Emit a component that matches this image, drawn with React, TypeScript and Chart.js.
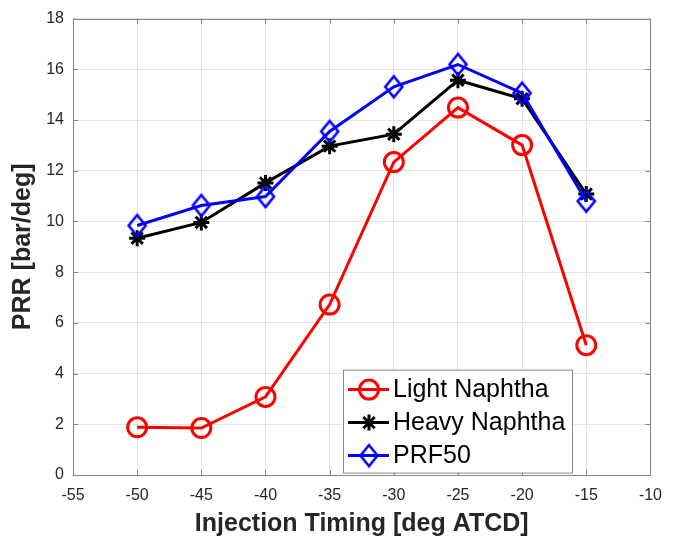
import React, { useEffect, useRef } from "react";
import { Chart, registerables } from "chart.js";
import { drawPoint } from "chart.js/helpers";

Chart.register(...registerables);

const injectionTiming = [-50, -45, -40, -35, -30, -25, -20, -15];
const lightNaphtha = [1.88, 1.85, 3.08, 6.72, 12.34, 14.49, 13.01, 5.12];
const heavyNaphtha = [9.34, 9.96, 11.52, 12.97, 13.44, 15.57, 14.84, 11.08];
const prf50 = [9.84, 10.63, 10.98, 13.55, 15.31, 16.19, 15.06, 10.8];
const seriesNames = ["Light Naphtha", "Heavy Naphtha", "PRF50"];
const seriesColors = ["#ff0000", "#000000", "#0000ff"];
const xTitle = "Injection Timing [deg ATCD]";
const yTitle = "PRR [bar/deg]";

const FONT = "'Liberation Sans', Arial, Helvetica, sans-serif";
const AXIS_COLOR = "#858585";
const GRID_COLOR = "#e2e2e2";
const TEXT_COLOR = "#262626";

function makeDiamond(color: string) {
  const c = document.createElement("canvas");
  c.width = 24;
  c.height = 28;
  const g = c.getContext("2d")!;
  g.strokeStyle = color;
  g.lineWidth = 2.6;
  g.lineJoin = "miter";
  g.beginPath();
  g.moveTo(12, 3.5);
  g.lineTo(20.5, 14);
  g.lineTo(12, 24.5);
  g.lineTo(3.5, 14);
  g.closePath();
  g.stroke();
  return c;
}

const boxPlugin = {
  id: "matlabBox",
  beforeDatasetsDraw(chart: any) {
    const { ctx, chartArea } = chart;
    const { left, right, top, bottom } = chartArea;
    const xs = chart.scales.x;
    const ys = chart.scales.y;
    ctx.save();
    ctx.strokeStyle = AXIS_COLOR;
    ctx.lineWidth = 1;
    ctx.beginPath();
    ctx.rect(Math.round(left) + 0.5, Math.round(top) + 0.5, Math.round(right - left), Math.round(bottom - top));
    ctx.stroke();
    const tl = 5;
    ctx.beginPath();
    xs.ticks.forEach((t: any) => {
      const px = Math.round(xs.getPixelForValue(t.value)) + 0.5;
      ctx.moveTo(px, bottom);
      ctx.lineTo(px, bottom - tl);
      ctx.moveTo(px, top);
      ctx.lineTo(px, top + tl);
    });
    ys.ticks.forEach((t: any) => {
      const py = Math.round(ys.getPixelForValue(t.value)) + 0.5;
      ctx.moveTo(left, py);
      ctx.lineTo(left + tl, py);
      ctx.moveTo(right, py);
      ctx.lineTo(right - tl, py);
    });
    ctx.stroke();
    ctx.restore();
  },
};

const legendPlugin = {
  id: "matlabLegend",
  afterDatasetsDraw(chart: any) {
    const { ctx, chartArea } = chart;
    const bx = chartArea.left + 270;
    const by = chartArea.top + 351;
    const bw = 229;
    const bh = 103;
    ctx.save();
    ctx.fillStyle = "#ffffff";
    ctx.fillRect(bx, by, bw, bh);
    ctx.strokeStyle = "#8a8a8a";
    ctx.lineWidth = 1;
    ctx.strokeRect(bx + 0.5, by + 0.5, bw, bh);
    const rows = [20, 53, 86];
    chart.data.datasets.forEach((ds: any, i: number) => {
      const y = by + rows[i];
      ctx.strokeStyle = ds.borderColor;
      ctx.lineWidth = 3;
      ctx.beginPath();
      ctx.moveTo(bx + 5, y);
      ctx.lineTo(bx + 46, y);
      ctx.stroke();
      ctx.fillStyle = "rgba(0,0,0,0)";
      drawPoint(
        ctx,
        {
          pointStyle: ds.pointStyle,
          radius: ds.pointRadius,
          rotation: 0,
          borderWidth: ds.pointBorderWidth,
        } as any,
        bx + 26,
        y
      );
      ctx.fillStyle = "#000000";
      ctx.font = `25px ${FONT}`;
      ctx.textAlign = "left";
      ctx.textBaseline = "middle";
      ctx.fillText(ds.label, bx + 50, y + 1);
    });
    ctx.restore();
  },
};

export default function App() {
  const canvasRef = useRef<HTMLCanvasElement | null>(null);

  useEffect(() => {
    const canvas = canvasRef.current;
    if (!canvas) return;
    const seriesData = [lightNaphtha, heavyNaphtha, prf50];
    const markers: any[] = ["circle", "star", makeDiamond(seriesColors[2])];
    const radii = [9.5, 8, 10];
    const datasets = seriesData.map((vals, i) => ({
      label: seriesNames[i],
      data: injectionTiming.map((x, j) => ({ x, y: vals[j] })),
      borderColor: seriesColors[i],
      backgroundColor: "rgba(0,0,0,0)",
      pointBackgroundColor: "rgba(0,0,0,0)",
      pointBorderColor: seriesColors[i],
      pointStyle: markers[i],
      pointRadius: radii[i],
      pointBorderWidth: 3,
      borderWidth: 3,
      tension: 0,
      fill: false,
      order: 2 - i,
    }));

    const chart = new Chart(canvas, {
      type: "line",
      data: { datasets },
      plugins: [boxPlugin, legendPlugin],
      options: {
        animation: false,
        responsive: false,
        devicePixelRatio: 1,
        layout: { padding: { top: 14, right: 13, left: 0, bottom: 0 } },
        plugins: {
          legend: { display: false },
          tooltip: { enabled: false },
        },
        scales: {
          x: {
            type: "linear",
            min: -55,
            max: -10,
            afterFit: (s: any) => {
              s.height = 67;
            },
            ticks: {
              stepSize: 5,
              color: TEXT_COLOR,
              font: { family: FONT, size: 16 },
              padding: 11,
              maxRotation: 0,
            },
            grid: { color: GRID_COLOR, drawTicks: false, lineWidth: 1 },
            border: { display: false },
            title: {
              display: true,
              text: xTitle,
              color: TEXT_COLOR,
              font: { family: FONT, size: 25, weight: "bold" },
              padding: { top: 0, bottom: 3 },
            },
          },
          y: {
            type: "linear",
            min: 0,
            max: 18,
            afterFit: (s: any) => {
              s.width = 73;
            },
            ticks: {
              stepSize: 2,
              color: TEXT_COLOR,
              font: { family: FONT, size: 16 },
              padding: 9,
            },
            grid: { color: GRID_COLOR, drawTicks: false, lineWidth: 1 },
            border: { display: false },
            title: {
              display: true,
              text: yTitle,
              color: TEXT_COLOR,
              font: { family: FONT, size: 25, weight: "bold" },
              padding: { top: 8, bottom: 0 },
            },
          },
        },
      } as any,
    });
    return () => chart.destroy();
  }, []);

  return (
    <div style={{ position: "fixed", left: 0, top: 0, width: 673, height: 542, background: "#fff" }}>
      <canvas ref={canvasRef} width={673} height={542} style={{ display: "block" }} />
    </div>
  );
}
